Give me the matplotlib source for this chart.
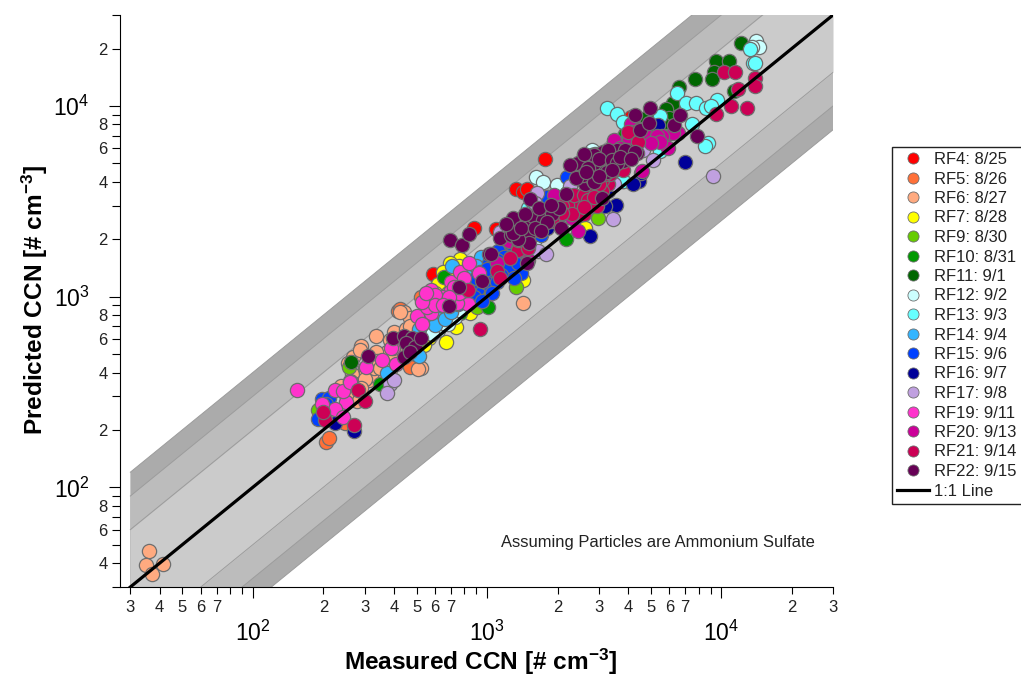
import matplotlib
matplotlib.use("Agg")
import matplotlib.pyplot as plt
from matplotlib.lines import Line2D

plt.rcParams['font.family'] = ['Liberation Sans', 'DejaVu Sans']
plt.rcParams['mathtext.fontset'] = 'custom'
plt.rcParams['mathtext.rm'] = 'Liberation Sans'
plt.rcParams['mathtext.bf'] = 'Liberation Sans:bold'
plt.rcParams['mathtext.default'] = 'regular'

rf4_x = [1760, 1330, 1420, 1480, 880, 1090, 590, 4100, 2900]
rf4_y = [5300, 3650, 3550, 3650, 2280, 2260, 1310, 8800, 3900]
rf5_x = [205, 212, 248, 415, 425, 520, 470]
rf5_y = [172, 181, 217, 840, 860, 1000, 430]
rf6_x = [36, 35, 37, 41.5, 290, 268, 255, 286, 265, 300, 335, 385, 400, 440, 450, 425, 470, 510, 520, 500,
         350, 325, 312, 283, 303, 268, 278, 250, 238, 350, 385, 450, 565, 590, 495, 375, 335, 410, 440,
         1420, 505, 425, 320, 330, 420, 460, 480, 520, 540, 300, 340, 350, 290, 260, 400, 470, 550, 470]
rf6_y = [46.4, 39, 35, 39.5, 548, 480, 447, 525, 392, 420, 625, 590, 650, 830, 680, 555, 770, 665, 420, 555,
         450, 475, 365, 350, 400, 305, 285, 305, 340, 365, 410, 495, 625, 705, 590, 510, 510, 465, 590,
         930, 415, 830, 390, 420, 520, 640, 600, 740, 810, 370, 460, 420, 330, 360, 500, 520, 700, 700]
rf7_x = [770, 695, 650, 620, 1420, 665, 740, 565, 2620, 940, 850, 590, 540, 600, 620, 680, 780, 820, 720, 760, 900]
rf7_y = [1570, 1500, 1350, 1170, 1220, 580, 690, 605, 2280, 1000, 825, 720, 560, 1050, 900, 1050, 1100, 1000, 1350, 1450, 1450]
rf9_x = [1330, 2980, 190, 258, 865, 1000, 910, 830]
rf9_y = [1130, 2600, 255, 430, 1370, 1060, 880, 1265]
rf10_x = [1010, 350, 770, 2180, 3900, 4750, 860, 655, 4000, 2800]
rf10_y = [880, 350, 820, 2000, 7100, 6900, 1090, 1265, 6900, 4900]
rf11_x = [12100, 9520, 10800, 9300, 9100, 7700, 11300, 6600, 6250, 5800, 6000, 5650, 262, 4750]
rf11_y = [21500, 17200, 17200, 15000, 13800, 13900, 12000, 12500, 10400, 9600, 8700, 8050, 452, 8700]
rf12_x = [14100, 14500, 13500, 680, 620, 1240, 1620, 1730, 1990, 2600, 2800, 3800, 580, 730, 1500,
          700, 640, 800, 760, 1450, 1600]
rf12_y = [21900, 20400, 20400, 720, 670, 1350, 4250, 4000, 3850, 5500, 5850, 4050, 640, 780, 2700,
          780, 730, 900, 850, 1800, 2000]
rf13_x = [3250, 3600, 3800, 6500, 7100, 7800, 8600, 9600, 7500, 8800, 8500, 13600, 14000, 13300, 5500, 5450, 3800,
          2400, 2800, 9000, 1400, 1500, 2000, 2200, 2500, 2900, 3100]
rf13_y = [9750, 9050, 8200, 11700, 10400, 10400, 9700, 10700, 8000, 6400, 6150, 16800, 16900, 20000, 8900, 5800, 4050,
          3200, 5500, 10000, 2500, 2900, 3300, 3500, 5000, 5600, 5300]
rf14_x = [375, 710, 510, 960, 1010, 510, 940, 560, 620, 1200, 1300, 800, 1560, 600, 660, 700, 720, 760, 820, 900,
          1100, 1150, 1800, 2200]
rf14_y = [397, 1440, 680, 1600, 1590, 490, 1620, 780, 760, 1800, 2000, 1050, 2800, 710, 760, 830, 960, 1100, 1350, 1450,
          1450, 1650, 2700, 3500]
rf15_x = [190, 197, 212, 1110, 1180, 1070, 910, 650, 750, 1000, 1300, 1390, 2200, 1800, 205, 850, 800, 930, 1020, 1200,
          1500, 1650, 1400, 2000, 1250, 700, 780, 880, 1000, 1100, 1250, 1350, 1100, 900, 1050, 950, 1150, 1300, 1450,
          1550, 1700, 2100, 2300, 2600]
rf15_y = [228, 290, 295, 1740, 1620, 1260, 1090, 960, 920, 1180, 1620, 1330, 4250, 3330, 275, 1150, 1030, 1350, 1500, 1400,
          1900, 2500, 2300, 2600, 1900, 1060, 1100, 1000, 1400, 1550, 1450, 1500, 1200, 1250, 1050, 950, 1300, 1250, 1700,
          2100, 2100, 3000, 3300, 3100]
rf16_x = [270, 225, 7000, 2750, 3550, 3200, 4450, 4950, 5350, 4550, 1800, 3300, 4200, 2500]
rf16_y = [197, 218, 5100, 2080, 3010, 2990, 4030, 7050, 7900, 4450, 2300, 3600, 3900, 2900]
rf17_x = [9200, 3450, 385, 375, 400, 1140, 1650, 1790, 1640, 2260, 4650, 5100, 1600, 2050, 2900, 3500, 2400]
rf17_y = [4300, 2540, 350, 313, 365, 2180, 1740, 1680, 3500, 3800, 5850, 5200, 3100, 2900, 4500, 3900, 3300]
rf19_x = [154, 225, 262, 250, 225, 197, 305, 355, 395, 410, 500, 575, 575, 575, 555, 700, 695, 770, 840, 925, 830, 745,
          243, 243, 260, 390, 640, 600, 530, 600, 720, 760, 800, 530, 550, 690, 650]
rf19_y = [323, 325, 355, 280, 257, 273, 430, 465, 540, 445, 790, 820, 990, 1080, 880, 1200, 1060, 1340, 1500, 1325, 920, 930,
          320, 235, 357, 535, 1000, 1020, 720, 900, 1120, 1050, 1250, 940, 1040, 1000, 900]
rf20_x = [2450, 1930, 5750, 5450, 6550, 6200, 5950, 4050, 4450, 3500, 4600, 5600, 1240, 3500, 4100, 4500,
          1100, 1500, 2300, 2700, 3000, 3300, 3700, 4000, 4800, 5300, 5500, 5000]
rf20_y = [2200, 3400, 6950, 6850, 7200, 7250, 6000, 6700, 6750, 6500, 4550, 6950, 1950, 6600, 8000, 7600,
          1500, 1550, 2600, 5000, 4900, 5100, 6000, 5600, 7000, 7000, 6500, 6400]
rf21_x = [10300, 11400, 14000, 14000, 11800, 11000, 12900, 9500, 4100, 270, 203, 200, 280, 302, 930, 830, 1100, 1140,
          1350, 1650, 3300, 3100, 2700, 2520, 2280, 2780, 3030, 3350, 2430, 2200, 3800, 4000, 4400, 1360, 2900, 2600,
          3500, 2000, 1500, 2100, 2350, 2600, 2900, 3100, 2300, 2700, 2950, 2100, 1900, 3200, 3000, 2850, 2600, 1250, 1500]
rf21_y = [15100, 15100, 14100, 12800, 12300, 10000, 9800, 9100, 7300, 213, 225, 247, 323, 285, 675, 1085, 1370, 1250,
          1790, 2240, 3900, 4100, 3530, 3200, 3100, 3000, 3400, 4400, 2900, 3030, 4600, 7300, 6500, 1750, 3100, 2700,
          4900, 2700, 1800, 3000, 3400, 3400, 3700, 3600, 2700, 3200, 3000, 2750, 2500, 4400, 3900, 3350, 2950, 1600, 1950]
rf22_x = [695, 785, 835, 310, 395, 440, 480, 450, 495, 440, 520, 470, 690, 955, 760, 1020, 1480, 1140, 1260, 1350, 1490,
          1510, 1490, 1650, 1040, 1290, 1520, 1570, 1730, 1900, 2020, 1360, 1670, 1870, 2060, 1290, 2180, 2450, 2270,
          2800, 2960, 3200, 2630, 2830, 2560, 3130, 3300, 3600, 3950, 4350, 3800, 3100, 4500, 4900, 6300, 7900,
          4300, 4950, 6650, 3300, 3900, 3250, 2860, 2860, 4300, 1200, 1400, 1600, 1800, 1700, 1450,
          2400, 2700, 3000, 3400, 3600, 3400, 3000, 2650, 3700, 4100, 2600]
rf22_y = [1970, 1860, 2120, 488, 610, 625, 610, 570, 545, 480, 605, 510, 890, 1210, 1120, 1670, 1510, 2030, 2100, 1970, 2100,
          1910, 2450, 2480, 1680, 2600, 3260, 2640, 2530, 2700, 2900, 2000, 2900, 3030, 2290, 2150, 3450, 5000, 4900,
          5500, 4950, 4500, 3900, 4100, 4350, 5750, 5750, 5850, 5850, 5650, 5150, 3280, 7500, 8100, 7950, 6950,
          9000, 9700, 9000, 5850, 5850, 4500, 4000, 5500, 5750, 2400, 2300, 2300, 2450, 2200, 2700,
          4200, 4700, 5300, 5200, 5000, 4600, 4300, 4500, 5400, 5300, 5600]

series = [("RF4: 8/25", rf4_x, rf4_y, "#ff0000"),
          ("RF5: 8/26", rf5_x, rf5_y, "#ff7038"),
          ("RF6: 8/27", rf6_x, rf6_y, "#ffaa80"),
          ("RF7: 8/28", rf7_x, rf7_y, "#ffff00"),
          ("RF9: 8/30", rf9_x, rf9_y, "#66cc00"),
          ("RF10: 8/31", rf10_x, rf10_y, "#009900"),
          ("RF11: 9/1", rf11_x, rf11_y, "#006600"),
          ("RF12: 9/2", rf12_x, rf12_y, "#ccffff"),
          ("RF13: 9/3", rf13_x, rf13_y, "#66ffff"),
          ("RF14: 9/4", rf14_x, rf14_y, "#33b5ff"),
          ("RF15: 9/6", rf15_x, rf15_y, "#0040ff"),
          ("RF16: 9/7", rf16_x, rf16_y, "#000099"),
          ("RF17: 9/8", rf17_x, rf17_y, "#c0a0e0"),
          ("RF19: 9/11", rf19_x, rf19_y, "#ff33cc"),
          ("RF20: 9/13", rf20_x, rf20_y, "#cc0099"),
          ("RF21: 9/14", rf21_x, rf21_y, "#cc0055"),
          ("RF22: 9/15", rf22_x, rf22_y, "#660055")]

line_x = [30, 30000]
band_factors = [4, 3, 2]
band_colors = ["#ababab", "#bcbcbc", "#cbcbcb"]

x_major = [100, 1000, 10000]
x_minor = [30, 40, 50, 60, 70, 80, 90, 200, 300, 400, 500, 600, 700, 800, 900,
           2000, 3000, 4000, 5000, 6000, 7000, 8000, 9000, 20000, 30000]
x_minor_labels = ["3", "4", "5", "6", "7", "", "", "2", "3", "4", "5", "6", "7", "", "",
                  "2", "3", "4", "5", "6", "7", "", "", "2", "3"]
y_major = [100, 1000, 10000]
y_minor = [30, 40, 50, 60, 70, 80, 90, 200, 300, 400, 500, 600, 700, 800, 900,
           2000, 3000, 4000, 5000, 6000, 7000, 8000, 9000, 20000, 30000]
y_minor_labels = ["", "4", "", "6", "", "8", "", "2", "", "4", "", "6", "", "8", "",
                  "2", "", "4", "", "6", "", "8", "", "2", ""]
major_labels = [r"$10^{2}$", r"$10^{3}$", r"$10^{4}$"]

fig = plt.figure(figsize=(10.21, 6.87), dpi=100)
ax = fig.add_axes([120 / 1021, 1 - 587 / 687, 713 / 1021, 572 / 687])
ax.set_xscale("log")
ax.set_yscale("log")
ax.set_xlim(27.1, 30000)
ax.set_ylim(30, 30000)

# grey bands, widest first
for f, c in zip(band_factors, band_colors):
    ax.fill_between(line_x, [v / f for v in line_x], [v * f for v in line_x], color=c, lw=0, zorder=1)
    ax.plot(line_x, [v / f for v in line_x], color="#9c9c9c", lw=0.7, zorder=1.5)
    ax.plot(line_x, [v * f for v in line_x], color="#9c9c9c", lw=0.7, zorder=1.5)

for i, (name, xs, ys, c) in enumerate(series):
    ax.scatter(xs, ys, s=105, c=c, edgecolors="#6e6e6e", linewidths=0.9, zorder=2 + i * 0.01)

ax.plot(line_x, line_x, color="black", lw=2.3, zorder=3)

ax.set_xticks(x_major)
ax.set_xticklabels(major_labels, fontsize=16.5)
ax.set_xticks(x_minor, minor=True)
ax.set_xticklabels(x_minor_labels, minor=True, fontsize=12, color="#222222")
ax.set_yticks(y_major)
ax.set_yticklabels(major_labels, fontsize=16.5)
ax.set_yticks(y_minor, minor=True)
ax.set_yticklabels(y_minor_labels, minor=True, fontsize=12, color="#222222")
ax.tick_params(axis="x", which="major", length=8, width=0.8, pad=16)
ax.tick_params(axis="x", which="minor", length=5, width=0.8, pad=4)
ax.tick_params(axis="y", which="major", length=8, width=0.8, pad=14)
ax.tick_params(axis="y", which="minor", length=6, width=0.8, pad=3)
for s in ["top", "right"]:
    ax.spines[s].set_visible(False)

ax.text(815 / 1021, 1 - 543 / 687, "Assuming Particles are Ammonium Sulfate", transform=fig.transFigure,
        ha="right", va="center", fontsize=11.9, color="#222222")
fig.text(480 / 1021, 1 - 662 / 687, r"Measured CCN [# cm$\mathbf{^{-3}}$]", ha="center", va="center",
         fontsize=17.6, fontweight="bold")
fig.text(35 / 1021, 1 - 300 / 687, r"Predicted CCN [# cm$\mathbf{^{-3}}$]", ha="center", va="center",
         rotation=90, fontsize=17.6, fontweight="bold")

handles = [Line2D([], [], ls="", marker="o", ms=8, mfc=c, mec="#6e6e6e", mew=0.6, label=name)
           for name, xs, ys, c in series]
handles.append(Line2D([], [], color="black", lw=2.3, label="1:1 Line"))
fig.legend(handles=handles, loc="upper left", bbox_to_anchor=(892 / 1021, 1 - 147 / 687), borderaxespad=0,
           fontsize=12, labelspacing=0.27, fancybox=False, edgecolor="#222222", framealpha=1,
           handlelength=1.9, handletextpad=0.35, borderpad=0.3, labelcolor="#222222")

fig.savefig("out.png", dpi=100)
